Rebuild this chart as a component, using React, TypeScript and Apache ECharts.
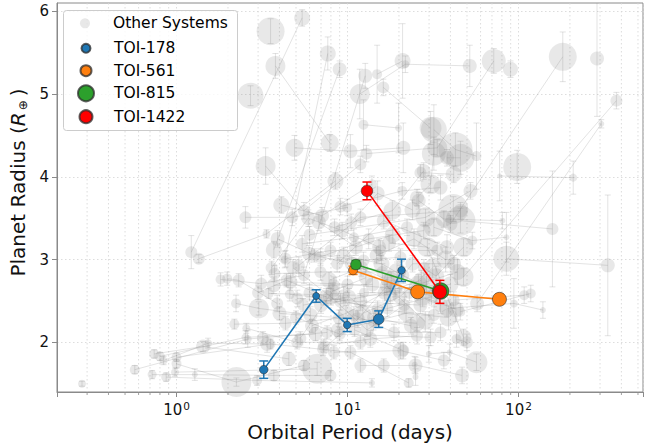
import React, { useEffect, useRef } from 'react';
import * as echarts from 'echarts';

const FONT = 'DejaVu Sans';

// ---------- Other systems (one inner array per planetary system) ----------
const otherPeriod: number[][] = [
  [1.22, 5.43], [0.28], [0.57, 2.61, 7.6], [0.72, 1.28, 3.71, 7.95], [0.74, 1.43, 4.54],
  [0.8, 2.53, 6.5], [0.84, 1.53, 3.39], [0.87, 2.96, 13.9], [1.0, 3.55, 10.4, 22.8], [1.0, 2.24, 5.56],
  [0.98, 6.65], [1.35, 3.36, 8.5], [1.81, 3.13, 5.56, 12.7], [2.23, 3.03, 6.08], [2.18, 4.34, 8.9],
  [2.56, 5.08, 11.9], [3.46, 9.5, 17.8], [3.71, 9.0], [4.3, 7.67], [3.74, 6.95, 16],
  [1.98, 2.31, 3.88], [3.55], [3.79, 7.88], [2.71], [14.9, 21.0],
  [16.2, 30.6], [11.8, 21.8, 51.9], [12.4, 19.9], [4.9, 10.4, 21.2], [12.9, 33.5, 71.7],
  [3.32, 5.56, 11.9], [40, 181.6], [89.8], [288], [47.7, 374],
  [57.3, 305], [32, 42.8, 56.8], [98.3], [77.6, 209], [26.7, 41.8],
  [4.1, 7.1, 13.9], [2.53, 4.75, 9.96], [26.1, 36.6, 80.5], [41.6], [32, 53.7, 85],
  [45.8, 158], [85, 333], [41.8, 108], [38.2, 94, 139], [29.9, 39.6, 56.8],
  [24.7, 46.8], [25], [43.4, 49.9], [45.7, 118], [8.4, 18.3, 27.9],
  [9.1, 20.9, 35], [5.43, 10.9, 22.3], [4.34, 7.95, 15.6, 33.5], [5.95, 12.4, 20.4], [6.95, 13.3, 27.9],
  [8.7, 16.3, 38.2], [5.19, 11.9, 45.8], [3.71, 8.33, 14], [4.64, 10, 19, 40], [5.08, 9.1, 17.1, 31],
  [4.6, 11.9, 26.7], [7.27, 13.6, 25.5], [8.33, 20.4, 36.6], [10.9, 18.7, 35], [11.9, 16.3, 25],
  [21.2, 24, 42], [28, 33, 47.7], [12.5, 23, 35], [6, 15, 32], [7, 29],
  [17.5, 29.3, 47.7], [6, 28.6, 52.4], [5, 9, 30.6], [11, 21.2], [4, 25.5],
  [3.2], [38.2, 45.8], [25.5, 30.6, 32],
  [6.2, 9.8, 16.5, 27], [7.8, 12, 19.5, 33], [5.5, 10.2, 14.5, 23.5], [8.8, 14.2, 22, 39],
  [4.8, 8, 13, 21.5], [9.5, 15.8, 26, 44], [6.8, 11.2, 18.4], [3.9, 6.4, 10.6, 17.2],
  [12.3, 20.2, 31.5], [7.2, 11.5, 17, 28.5], [14.8, 24.5, 37.5], [5.3, 8.2, 12.8],
  [18, 27.5, 43], [3.6, 5.9, 9.3, 15.3], [10.5, 15, 24], [3.0, 4.4, 7.5],
];
const otherRadius: number[][] = [
  [3.09, 5.92], [1.5], [1.67, 2.04, 2.12], [1.61, 1.61, 1.6, 1.6], [1.86, 1.95, 1.8],
  [1.83, 2.06, 2.1], [1.78, 1.99, 1.98], [1.58, 1.54, 1.51], [1.82, 1.98, 1.88, 1.51], [1.74, 1.52, 1.72],
  [1.64, 1.68], [3.01, 3.31, 3.95], [2.76, 2.71, 2.81, 5.22], [2.47, 2.41, 2.33], [2.22, 2.23, 2.29],
  [2.17, 2.0, 2.0], [2.59, 2.57, 2.57], [3.12, 5.3], [3.0, 5.49], [2.83, 2.85, 2.85],
  [2.77, 2.75, 2.47], [5.76], [5.34, 4.41], [4.98], [5.24, 5.4],
  [5.08, 4.59], [5.0, 5.36, 5.34], [4.63, 4.59], [4.35, 4.31, 4.35], [4.28, 4.35, 5.4],
  [4.13, 3.59, 4.15], [3.43, 5.45], [5.3], [5.43], [2.79, 4.92],
  [2.47, 4.64], [4.57, 4.33, 4.25], [4.12], [4.01, 3.99], [4.05, 4.03],
  [3.66, 3.53, 3.91], [3.51, 3.51, 3.63], [3.71, 3.49, 3.47], [3.61], [3.39, 3.23, 3.27],
  [3.47, 3.37], [3.01, 2.93], [2.51, 2.57], [2.41, 2.47, 2.39], [1.86, 1.88, 1.76],
  [1.73, 1.6], [1.58], [2.04, 2.0], [2.37, 2.59], [3.39, 3.59, 4.07],
  [3.64, 3.83, 3.87], [3.19, 3.27, 3.39], [3.01, 3.11, 3.11, 3.11], [3.07, 2.99, 3.03], [3.03, 3.25, 3.35],
  [2.95, 3.47, 3.15], [2.93, 3.51, 3.59], [2.69, 2.69, 2.7], [2.73, 2.7, 2.65, 2.7], [2.53, 2.49, 2.41, 2.55],
  [2.58, 2.49, 2.45], [1.96, 2.04, 2.08], [1.88, 1.9, 1.78], [2.33, 2.12, 2.12], [1.72, 1.72, 1.72],
  [2.81, 2.95, 2.95], [2.9, 2.8, 3.15], [2.6, 2.6, 2.45], [2.6, 2.4, 2.33], [2.45, 2.7],
  [3.2, 3.15, 2.06], [3.3, 3.51, 3.83], [2.3, 2.1, 2.06], [2.15, 1.9], [2.35, 2.23],
  [2.05], [4.23, 4.23], [3.75, 3.91, 4.28],
  [2.2, 2.35, 2.6, 2.75], [2.75, 2.9, 2.85, 2.6], [2.45, 2.55, 2.3, 2.2], [2.15, 2.25, 2.35, 2.3],
  [2.9, 2.55, 2.15, 2.45], [3.05, 2.95, 2.7, 2.85], [3.45, 3.15, 3.3], [3.25, 3.05, 2.95, 2.75],
  [2.35, 2.55, 2.9], [1.92, 2.28, 2.68, 2.25], [3.05, 3.25, 3.0], [2.05, 2.62, 2.78],
  [2.75, 2.55, 2.4], [2.9, 3.5, 3.35, 3.15], [3.45, 3.8, 3.6], [2.6, 2.75, 2.55],
];
const otherSize: number[][] = [
  [12, 16], [8], [10, 8, 12], [9, 6, 12, 12], [10, 14, 14],
  [10, 8, 14], [8, 8, 14], [10, 10, 6], [10, 10, 12, 10], [10, 30, 12],
  [8, 30], [12, 8, 16], [10, 12, 12, 14], [10, 20, 14], [10, 12, 12],
  [8, 12, 12], [10, 12, 14], [16, 14], [8, 16], [12, 12, 12],
  [10, 12, 12], [28], [20, 18], [26], [10, 16],
  [12, 22], [20, 8, 14], [10, 7], [18, 14, 14], [12, 20, 24],
  [20, 12, 12], [14, 28], [15], [14], [20, 12],
  [14, 6], [26, 34, 10], [28], [5, 8], [12, 16],
  [16, 14, 10], [12, 12, 10], [14, 16, 6], [30], [20, 10, 6],
  [30, 12], [26, 14], [12, 10], [16, 8, 6], [6, 6, 22],
  [6, 14], [6], [10, 12], [10, 10], [12, 18, 14],
  [12, 10, 14], [12, 10, 12], [12, 12, 12, 12], [14, 12, 12], [12, 12, 14],
  [12, 14, 14], [12, 12, 14], [14, 12, 14], [14, 12, 14, 16], [12, 12, 12, 14],
  [10, 14, 14], [12, 14, 12], [12, 16, 12], [12, 12, 12], [12, 12, 14],
  [12, 14, 14], [12, 16, 20], [10, 12, 14], [12, 12, 12], [14, 16],
  [14, 20, 16], [12, 20, 14], [12, 12, 12], [12, 12], [14, 16],
  [12], [14, 28], [14, 20, 24],
  [14, 16, 14, 16], [16, 14, 18, 14], [12, 14, 16, 14], [14, 12, 16, 18],
  [14, 16, 14, 12], [14, 16, 18, 16], [14, 14, 16], [14, 12, 14, 14],
  [16, 14, 18], [12, 14, 14, 16], [14, 16, 18], [12, 14, 14],
  [16, 18, 16], [12, 14, 14, 14], [12, 14, 16], [12, 12, 14],
];
const otherErr: number[][] = [
  [0.2, 0.1], [0.03], [0.05, 0.1, 0.08], [0.05, 0.07, 0.06, 0.06], [0.05, 0.06, 0.08],
  [0.05, 0.08, 0.08], [0.05, 0.06, 0.1], [0.05, 0.06, 0.05], [0.05, 0.06, 0.08, 0.05], [0.05, 0.05, 0.06],
  [0.05, 0.08], [0.05, 0.05, 0.1], [0.08, 0.1, 0.1, 0.15], [0.1, 0.08, 0.1], [0.06, 0.08, 0.1],
  [0.06, 0.08, 0.08], [0.06, 0.1, 0.1], [0.1, 0.1], [0.1, 0.2], [0.1, 0.1, 0.1],
  [0.08, 0.08, 0.1], [0.15], [0.15, 0.1], [0.12], [0.35, 0.45],
  [0.1, 0.2], [0.3, 0.1, 0.25], [0.3, 0.3], [0.15, 0.2, 0.3], [0.1, 0.1, 0.15],
  [0.22, 0.1, 0.1], [0.1, 0.3], [0.1], [0.7], [0.1, 0.1],
  [0.1, 0.05], [0.3, 0.2, 0.4], [0.2], [0.3, 0.2], [0.1, 0.1],
  [0.1, 0.1, 0.1], [0.13, 0.1, 0.1], [0.1, 0.1, 0.1], [0.15], [0.1, 0.1, 0.3],
  [0.15, 0.7], [0.2, 0.85], [0.1, 0.1], [0.1, 0.3, 0.1], [0.1, 0.1, 0.1],
  [0.1, 0.1], [0.1], [0.1, 0.1], [0.1, 0.1], [0.1, 0.12, 0.1],
  [0.1, 0.1, 0.15], [0.1, 0.1, 0.1], [0.1, 0.1, 0.12, 0.1], [0.1, 0.1, 0.1], [0.1, 0.12, 0.1],
  [0.1, 0.1, 0.15], [0.1, 0.1, 0.1], [0.1, 0.1, 0.1], [0.1, 0.1, 0.1, 0.12], [0.1, 0.1, 0.1, 0.1],
  [0.08, 0.1, 0.1], [0.08, 0.1, 0.1], [0.08, 0.1, 0.1], [0.1, 0.1, 0.1], [0.08, 0.08, 0.1],
  [0.1, 0.1, 0.1], [0.1, 0.12, 0.1], [0.1, 0.1, 0.1], [0.1, 0.1, 0.1], [0.1, 0.12],
  [0.1, 0.1, 0.1], [0.1, 0.1, 0.1], [0.08, 0.08, 0.1], [0.08, 0.1], [0.08, 0.1],
  [0.08], [0.1, 0.2], [0.1, 0.1, 0.2],
  [0.08, 0.1, 0.1, 0.12], [0.1, 0.1, 0.12, 0.1], [0.08, 0.1, 0.1, 0.1], [0.08, 0.1, 0.1, 0.15],
  [0.1, 0.1, 0.08, 0.1], [0.1, 0.1, 0.12, 0.15], [0.1, 0.1, 0.1], [0.1, 0.08, 0.1, 0.1],
  [0.1, 0.1, 0.12], [0.08, 0.1, 0.1, 0.12], [0.1, 0.12, 0.15], [0.08, 0.1, 0.1],
  [0.1, 0.12, 0.15], [0.08, 0.1, 0.1, 0.1], [0.1, 0.15, 0.12], [0.08, 0.08, 0.1],
];

// ---------- Highlighted systems ----------
const toi178Period = [3.238, 6.557, 9.961, 15.231, 20.709];
const toi178Radius = [1.67, 2.56, 2.21, 2.28, 2.87];
const toi178Err = [0.105, 0.075, 0.08, 0.1, 0.135];
const toi178Size = [8.5, 7, 7.5, 10.5, 7.5];

const toi561Period = [10.78, 25.71, 77.4];
const toi561Radius = [2.87, 2.61, 2.52];
const toi561Err = [0.05, 0.06, 0.06];
const toi561Size = [9, 14, 14];

const toi815Period = [11.2, 35.08];
const toi815Radius = [2.94, 2.62];
const toi815Err = [0.05, 0.06];
const toi815Size = [10.5, 16.5];

const toi1422Period = [13.0, 34.7];
const toi1422Radius = [3.83, 2.61];
const toi1422Err = [0.107, 0.139];
const toi1422Size = [11.5, 13.5];

// ---------- Axes ----------
const xMin = 0.2;
const xMax = 535;
const yMin = 1.4;
const yMax = 6.1;
const yTicks = [2, 3, 4, 5, 6];
const xMinorTicks = [
  0.3, 0.4, 0.5, 0.6, 0.7, 0.8, 0.9,
  2, 3, 4, 5, 6, 7, 8, 9,
  20, 30, 40, 50, 60, 70, 80, 90,
  200, 300, 400, 500,
];

const legendNames = ['Other Systems', 'TOI-178', 'TOI-561', 'TOI-815', 'TOI-1422'];
const legendIconSizes = [10, 9, 11, 16, 13];

const GREY = 'rgba(128,128,128,0.23)';
const AXIS = '#8a8a8a';
const GRID = '#d4d4d4';

function errorBars(color: string, cap: number, width: number) {
  return (_params: any, api: any) => {
    const x = api.value(0);
    const y = api.value(1);
    const e = api.value(2);
    const hi = api.coord([x, y + e]);
    const lo = api.coord([x, y - e]);
    const style = { stroke: color, lineWidth: width, fill: 'none' };
    return {
      type: 'group',
      children: [
        { type: 'line', shape: { x1: hi[0], y1: hi[1], x2: lo[0], y2: lo[1] }, style },
        { type: 'line', shape: { x1: hi[0] - cap, y1: hi[1], x2: hi[0] + cap, y2: hi[1] }, style },
        { type: 'line', shape: { x1: lo[0] - cap, y1: lo[1], x2: lo[0] + cap, y2: lo[1] }, style },
      ],
    };
  };
}

function toiSeries(
  name: string,
  color: string,
  periods: number[],
  radii: number[],
  errs: number[],
  sizes: number[],
  z: number,
) {
  return [
    {
      type: 'custom',
      id: name + '-err',
      renderItem: errorBars(color, 4.5, 1.5),
      data: periods.map((p, i) => [p, radii[i], errs[i]]),
      encode: { x: 0, y: 1 },
      silent: true,
      z,
    },
    {
      type: 'line',
      name,
      data: periods.map((p, i) => ({ value: [p, radii[i]], symbolSize: sizes[i] })),
      symbol: 'circle',
      showSymbol: true,
      showAllSymbol: true,
      itemStyle: { color, borderColor: 'rgba(45,45,45,0.75)', borderWidth: 0.8, opacity: 1 },
      lineStyle: { color, width: 1.6 },
      emphasis: { disabled: true },
      silent: true,
      clip: false,
      z: z + 1,
    },
  ];
}

function buildOption() {
  const otherPoints: number[][] = [];
  const otherLinks: { coords: number[][] }[] = [];
  otherPeriod.forEach((sys, s) => {
    const coords = sys.map((p, j) => [p, otherRadius[s][j]]);
    sys.forEach((p, j) => otherPoints.push([p, otherRadius[s][j], otherSize[s][j], otherErr[s][j]]));
    if (coords.length > 1) otherLinks.push({ coords });
  });

  const textBase = { fontFamily: FONT, color: '#111' };

  return {
    animation: false,
    backgroundColor: '#ffffff',
    grid: {
      left: 57,
      right: 11,
      top: 3,
      bottom: 55,
      show: true,
      borderColor: AXIS,
      borderWidth: 1,
      containLabel: false,
      outerBoundsMode: 'none',
    },
    xAxis: {
      type: 'log',
      logBase: 10,
      min: xMin,
      max: xMax,
      name: 'Orbital Period (days)',
      nameLocation: 'middle',
      nameGap: 29,
      nameTextStyle: { ...textBase, fontSize: 20 },
      axisLine: { show: true, onZero: false, lineStyle: { color: AXIS, width: 1 } },
      axisTick: { show: true, length: 5, lineStyle: { color: AXIS, width: 1 } },
      axisLabel: {
        ...textBase,
        fontSize: 15,
        margin: 8,
        formatter: (v: number) => {
          const e = Math.log10(v);
          const r = Math.round(e);
          if (Math.abs(e - r) > 1e-6) return '';
          return '{b|10}{s|' + r + '}';
        },
        rich: {
          b: { ...textBase, fontSize: 15 },
          s: { ...textBase, fontSize: 10.5, padding: [0, 0, 9, 1] },
        },
      },
      splitLine: { show: true, lineStyle: { color: GRID, width: 0.8, type: [1.5, 2.5] } },
      minorTick: { show: false },
    },
    yAxis: {
      type: 'value',
      min: yMin,
      max: yMax,
      name: 'Planet Radius ({it|R}{sub|⊕})',
      nameLocation: 'middle',
      nameGap: 24,
      nameTextStyle: {
        ...textBase,
        fontSize: 20,
        padding: [0, 0, 0, 30],
        rich: {
          it: { ...textBase, fontSize: 20, fontStyle: 'italic' },
          sub: { ...textBase, fontSize: 12, verticalAlign: 'bottom', padding: [9, 4, 0, 2] },
        },
      },
      axisLine: { show: true, onZero: false, lineStyle: { color: AXIS, width: 1 } },
      axisTick: { show: true, length: 5, customValues: yTicks, lineStyle: { color: AXIS, width: 1 } },
      axisLabel: {
        ...textBase,
        fontSize: 15,
        margin: 8,
        customValues: yTicks,
        formatter: (v: number) => (Math.abs(v - Math.round(v)) < 1e-6 ? String(Math.round(v)) : ''),
      },
      splitLine: { show: true, lineStyle: { color: GRID, width: 0.8, type: [1.5, 2.5] } },
    },
    legend: legendNames.map((name, i) => ({
      data: [name],
      icon: 'circle',
      orient: 'vertical',
      left: 85 - legendIconSizes[i] / 2,
      top: [23.3, 48.3, 70.7, 93.3, 116.7][i] - 9,
      itemWidth: 46,
      itemHeight: legendIconSizes[i],
      padding: 0,
      selectedMode: false,
      textStyle: { ...textBase, color: '#000', fontSize: 15.5, lineHeight: 18 },
      z: 20,
    })),
    graphic: [
      {
        type: 'rect',
        left: 63,
        top: 10,
        z: 19,
        shape: { width: 174, height: 120, r: 3 },
        style: { fill: 'rgba(255,255,255,0.8)', stroke: '#cccccc', lineWidth: 1 },
        silent: true,
      },
    ],
    series: [
      {
        type: 'custom',
        id: 'minor-grid',
        silent: true,
        z: 0,
        data: xMinorTicks.map((v) => [v, yMin]),
        encode: { x: 0, y: 1 },
        renderItem: (_p: any, api: any) => {
          const v = api.value(0);
          const top = api.coord([v, yMax]);
          const bot = api.coord([v, yMin]);
          return {
            type: 'group',
            children: [
              {
                type: 'line',
                shape: { x1: top[0], y1: top[1], x2: bot[0], y2: bot[1] },
                style: { stroke: GRID, lineWidth: 0.8, lineDash: [1.5, 2.5] },
              },
              {
                type: 'line',
                shape: { x1: bot[0], y1: bot[1], x2: bot[0], y2: bot[1] + 3 },
                style: { stroke: AXIS, lineWidth: 0.8 },
              },
            ],
          };
        },
      },
      {
        type: 'lines',
        id: 'other-links',
        coordinateSystem: 'cartesian2d',
        polyline: true,
        silent: true,
        z: 1,
        lineStyle: { color: 'rgba(128,128,128,0.22)', width: 1, opacity: 1 },
        data: otherLinks,
      },
      {
        type: 'custom',
        id: 'other-err',
        silent: true,
        z: 1,
        clip: true,
        renderItem: errorBars('rgba(128,128,128,0.22)', 3, 1),
        data: otherPoints.map((p) => [p[0], p[1], p[3]]),
        encode: { x: 0, y: 1 },
      },
      {
        type: 'scatter',
        name: 'Other Systems',
        data: otherPoints.map((p) => [p[0], p[1], p[2]]),
        symbol: 'circle',
        symbolSize: (v: number[]) => v[2],
        itemStyle: { color: GREY, borderWidth: 0 },
        emphasis: { disabled: true },
        silent: true,
        z: 2,
      },
      ...toiSeries('TOI-178', '#1f77b4', toi178Period, toi178Radius, toi178Err, toi178Size, 3),
      ...toiSeries('TOI-561', '#ff7f0e', toi561Period, toi561Radius, toi561Err, toi561Size, 5),
      ...toiSeries('TOI-815', '#2ca02c', toi815Period, toi815Radius, toi815Err, toi815Size, 7),
      ...toiSeries('TOI-1422', '#ff0000', toi1422Period, toi1422Radius, toi1422Err, toi1422Size, 9),
    ],
  };
}

export default function App() {
  const ref = useRef<HTMLDivElement>(null);
  useEffect(() => {
    if (!ref.current) return;
    const chart = echarts.init(ref.current, undefined, { renderer: 'svg' });
    chart.setOption(buildOption() as any);
    return () => chart.dispose();
  }, []);
  return (
    <div
      ref={ref}
      style={{ position: 'fixed', left: 0, top: 0, width: 654, height: 447, background: '#fff' }}
    />
  );
}
